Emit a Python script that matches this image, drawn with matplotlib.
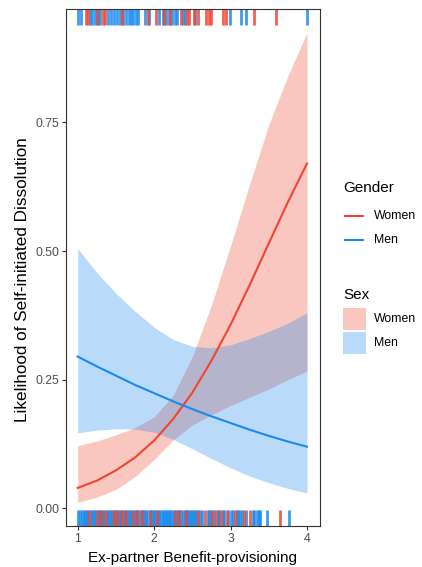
import matplotlib
matplotlib.use("Agg")
import matplotlib.pyplot as plt
from matplotlib.lines import Line2D
from matplotlib.patches import Rectangle

plt.rcParams['font.family'] = ['Liberation Sans', 'DejaVu Sans']

# Predicted probabilities and 95% bands along benefit-provisioning
x_grid = [1.00, 1.25, 1.50, 1.75, 2.00, 2.25, 2.50, 2.75, 3.00, 3.25, 3.50, 3.75, 4.00]

women_fit = [0.040, 0.054, 0.074, 0.099, 0.132, 0.174, 0.225, 0.287, 0.357, 0.434, 0.515, 0.595, 0.670]
women_lo = [0.012, 0.022, 0.037, 0.062, 0.095, 0.133, 0.162, 0.182, 0.200, 0.216, 0.232, 0.250, 0.267]
women_hi = [0.122, 0.131, 0.143, 0.157, 0.178, 0.220, 0.295, 0.395, 0.510, 0.630, 0.745, 0.840, 0.924]

men_fit = [0.295, 0.276, 0.258, 0.240, 0.224, 0.208, 0.193, 0.179, 0.166, 0.153, 0.141, 0.130, 0.120]
men_lo = [0.147, 0.152, 0.155, 0.154, 0.148, 0.134, 0.116, 0.097, 0.079, 0.063, 0.050, 0.039, 0.030]
men_hi = [0.505, 0.458, 0.418, 0.383, 0.352, 0.328, 0.315, 0.312, 0.318, 0.330, 0.344, 0.360, 0.380]

# Observed scores: dissolution initiated (top rug) or not (bottom rug)
women_initiated = [1.11, 1.14, 1.25, 1.33, 1.36, 1.58, 1.92, 2.03, 2.13, 2.21, 2.35, 2.43,
                   2.46, 2.52, 2.57, 2.68, 2.72, 2.75, 2.90, 2.94, 3.31, 3.60]
men_initiated = [1.00, 1.04, 1.16, 1.19, 1.22, 1.27, 1.29, 1.40, 1.44, 1.47, 1.52, 1.55,
                 1.59, 1.63, 1.67, 1.70, 1.73, 1.76, 1.79, 1.88, 1.93, 2.07, 2.12, 2.16,
                 2.19, 2.24, 2.27, 2.30, 2.38, 2.40, 2.54, 2.99, 3.14, 3.20, 4.00]
women_not = [1.15, 1.25, 1.31, 1.37, 1.47, 1.52, 1.58, 1.63, 1.72, 1.78, 1.84, 1.95, 2.04,
             2.27, 2.33, 2.42, 2.58, 2.67, 2.76, 2.81, 2.87, 2.95, 3.06, 3.17, 3.25, 3.65]
men_not = [1.00, 1.03, 1.05, 1.08, 1.10, 1.12, 1.14, 1.17, 1.19, 1.21, 1.23, 1.26, 1.28,
           1.30, 1.33, 1.35, 1.38, 1.40, 1.42, 1.44, 1.46, 1.49, 1.51, 1.53, 1.55, 1.57,
           1.60, 1.62, 1.64, 1.67, 1.69, 1.71, 1.74, 1.76, 1.78, 1.80, 1.83, 1.85, 1.87,
           1.89, 1.91, 1.94, 1.96, 1.98, 2.00, 2.02, 2.05, 2.07, 2.09, 2.11, 2.13, 2.15,
           2.17, 2.19, 2.21, 2.24, 2.26, 2.29, 2.31, 2.33, 2.35, 2.38, 2.40, 2.42, 2.44,
           2.46, 2.48, 2.50, 2.52, 2.54, 2.56, 2.60, 2.63, 2.70, 2.72, 2.75, 2.78, 2.83,
           2.85, 2.90, 2.92, 2.97, 3.00, 3.03, 3.08, 3.10, 3.12, 3.15, 3.20, 3.29, 3.31,
           3.34, 3.37, 3.39, 3.48, 3.77]

x_ticks = [1, 2, 3, 4]
y_ticks = [0.00, 0.25, 0.50, 0.75]
y_tick_labels = ["0.00", "0.25", "0.50", "0.75"]

RED = "#F0452F"
BLUE = "#1A8AEE"
FRAME = "#333333"
TICKTXT = "#4D4D4D"

W, H = 422, 567
fig = plt.figure(figsize=(W / 100, H / 100), dpi=100)
ax = fig.add_axes([66 / W, 1 - 526 / H, (320 - 66) / W, (526 - 9) / H])

ax.fill_between(x_grid, women_lo, women_hi, color=RED, alpha=0.3, lw=0)
ax.fill_between(x_grid, men_lo, men_hi, color=BLUE, alpha=0.3, lw=0)
ax.plot(x_grid, women_fit, color=RED, lw=1.5)
ax.plot(x_grid, men_fit, color=BLUE, lw=1.5)

tr = ax.get_xaxis_transform()
for vals, col in [(men_not, BLUE), (women_not, RED)]:
    ax.vlines(vals, 0.0, 0.03, transform=tr, colors=col, lw=2.0, alpha=0.85)
for vals, col in [(men_initiated, BLUE), (women_initiated, RED)]:
    ax.vlines(vals, 0.97, 1.0, transform=tr, colors=col, lw=2.0, alpha=0.85)

ax.set_xlim(0.847, 4.17)
ax.set_ylim(-0.034, 0.970)
ax.set_xticks(x_ticks)
ax.set_yticks(y_ticks)
ax.set_yticklabels(y_tick_labels)
ax.tick_params(colors=FRAME, labelcolor=TICKTXT, labelsize=8.8, length=2.8, width=0.8, pad=2)
for s in ax.spines.values():
    s.set_color(FRAME)
    s.set_linewidth(0.8)

# Figure-level layer in pixel coordinates for axis titles and legends
lg = fig.add_axes([0, 0, 1, 1])
lg.set_xlim(0, W)
lg.set_ylim(H, 0)
lg.axis("off")

lg.text(192, 558, "Ex-partner Benefit-provisioning", fontsize=11, ha="center", va="center")
lg.text(22.5, 280, "Likelihood of Self-initiated Dissolution", fontsize=12.3,
        rotation=90, ha="center", va="center")

lg.text(343, 188, "Gender", fontsize=11, va="center", ha="left")
for yc, col, lab in [(216, RED, "Women"), (240, BLUE, "Men")]:
    lg.add_line(Line2D([345, 363], [yc, yc], color=col, lw=1.5))
    lg.text(374, yc, lab, fontsize=8.8, va="center", ha="left")

lg.text(343, 295, "Sex", fontsize=11, va="center", ha="left")
for yc, col, lab in [(319, RED, "Women"), (343, BLUE, "Men")]:
    lg.add_patch(Rectangle((343, yc - 11), 23, 22, facecolor=col, alpha=0.3, lw=0))
    lg.text(374, yc, lab, fontsize=8.8, va="center", ha="left")

fig.savefig("out.png", dpi=100)
